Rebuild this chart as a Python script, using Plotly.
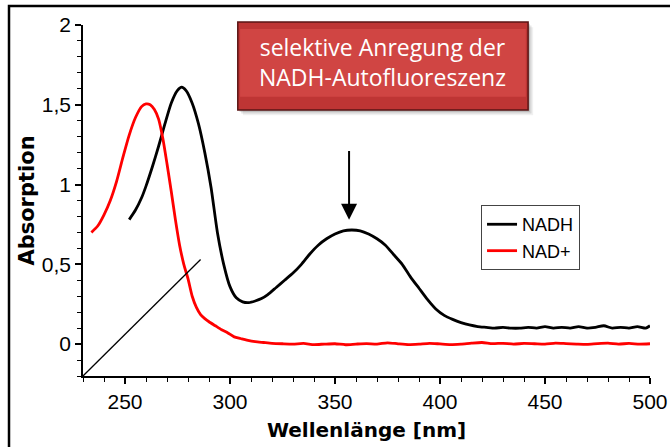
import plotly.graph_objects as go

# NADH absorption spectrum
nadh_wl = [252, 255, 258, 260, 263, 266, 269, 272, 275, 277, 279, 282, 285, 288, 291, 294,
           297, 300, 303, 306, 309, 312, 315, 318, 322, 326, 330, 334, 338, 342, 346, 350,
           354, 358, 362, 366, 370, 374, 378, 382, 386, 390, 394, 398, 402, 406, 410, 414,
           418, 422, 426, 430, 434, 438, 442, 446, 450, 454, 458, 462, 466, 470, 474, 478,
           482, 486, 490, 494, 498, 500]
nadh_abs = [0.78, 0.84, 0.92, 0.99, 1.11, 1.24, 1.38, 1.51, 1.59, 1.61, 1.59, 1.51, 1.38, 1.20,
            0.98, 0.70, 0.50, 0.36, 0.29, 0.265, 0.26, 0.27, 0.285, 0.31, 0.355, 0.40, 0.445,
            0.50, 0.565, 0.62, 0.66, 0.69, 0.71, 0.715, 0.71, 0.69, 0.66, 0.62, 0.56, 0.50,
            0.42, 0.35, 0.28, 0.22, 0.18, 0.155, 0.135, 0.12, 0.11, 0.105, 0.10, 0.105, 0.10,
            0.10, 0.105, 0.10, 0.11, 0.10, 0.105, 0.10, 0.11, 0.10, 0.105, 0.115, 0.10,
            0.105, 0.10, 0.11, 0.10, 0.115]

# NAD+ absorption spectrum
nad_wl = [234, 237, 240, 243, 246, 249, 252, 255, 258, 260, 262, 264, 266, 268, 270, 272,
          274, 276, 278, 280, 282, 284, 286, 288, 290, 293, 296, 299, 302, 305, 308, 312,
          316, 320, 325, 330, 335, 340, 345, 350, 355, 360, 365, 370, 375, 380, 385, 390,
          395, 400, 405, 410, 415, 420, 425, 430, 435, 440, 445, 450, 455, 460, 465, 470,
          475, 480, 485, 490, 495, 500]
nad_abs = [0.70, 0.74, 0.81, 0.90, 1.02, 1.17, 1.31, 1.42, 1.49, 1.505, 1.50, 1.47, 1.41,
           1.29, 1.13, 0.96, 0.78, 0.62, 0.50, 0.41, 0.30, 0.23, 0.185, 0.16, 0.14, 0.115,
           0.09, 0.07, 0.045, 0.035, 0.025, 0.015, 0.01, 0.005, 0.002, 0.0, 0.004, -0.003,
           0.0, 0.002, -0.004, 0.0, 0.003, 0.0, 0.008, 0.002, -0.003, 0.0, 0.005, 0.001,
           -0.003, 0.0, 0.006, 0.01, 0.003, 0.005, 0.0, 0.004, 0.002, 0.0, 0.006, 0.003,
           0.0, -0.002, 0.003, 0.006, 0.0, 0.004, 0.0, 0.002]

y_ticks = [0, 0.5, 1, 1.5, 2]
x_ticks = [250, 300, 350, 400, 450, 500]

fig = go.Figure()
fig.add_trace(go.Scatter(x=nadh_wl, y=nadh_abs, name="NADH", mode="lines",
                         line=dict(color="black", width=2.8, shape="spline", smoothing=0.6)))
fig.add_trace(go.Scatter(x=nad_wl, y=nad_abs, name="NAD+", mode="lines",
                         line=dict(color="#ff0000", width=2.8, shape="spline", smoothing=0.6)))

tick_font = "Liberation Sans, Arial, sans-serif"
title_font = "DejaVu Sans, Verdana, sans-serif"

fig.update_layout(
    width=670, height=447,
    margin=dict(l=83, r=20, t=25, b=71, autoexpand=False),
    plot_bgcolor="white", paper_bgcolor="white",
    separators=",.",
    font=dict(family=tick_font, color="black", size=18),
    showlegend=True,
    legend=dict(x=0.702, y=0.487, xanchor="left", yanchor="top",
                bordercolor="#444", borderwidth=1, bgcolor="white",
                font=dict(size=18, family=tick_font), itemwidth=30,
                tracegroupgap=0),
    xaxis=dict(range=[230, 500], tickvals=x_ticks, showline=True, linecolor="black",
               linewidth=1.5, ticks="outside", ticklen=6, tickwidth=1.5, tickcolor="black",
               showgrid=False, zeroline=False, tickfont=dict(size=21), automargin=False,
               minor=dict(dtick=10, ticks="outside", ticklen=4, tickwidth=1.2,
                          tickcolor="black", showgrid=False),
               title=dict(text="<b>Wellenlänge [nm]</b>",
                          font=dict(size=20, family=title_font), standoff=11)),
    yaxis=dict(range=[-0.2, 2], tickvals=y_ticks, showline=True, linecolor="black",
               linewidth=1.5, ticks="outside", ticklen=6, tickwidth=1.5, tickcolor="black",
               showgrid=False, zeroline=False, tickfont=dict(size=21), automargin=False,
               minor=dict(dtick=0.1, ticks="outside", ticklen=4, tickwidth=1.2,
                          tickcolor="black", showgrid=False),
               title=dict(text="<b>Absorption</b>",
                          font=dict(size=21, family=title_font), standoff=1)),
)

# outer frame
fig.add_shape(type="rect", xref="paper", yref="paper", x0=-0.1305, x1=1.1, y0=-0.4, y1=1.054,
              line=dict(color="black", width=2.5), fillcolor="rgba(0,0,0,0)", layer="below")

# thin diagonal line from the axis corner
fig.add_shape(type="line", xref="x", yref="y", x0=230, y0=-0.2, x1=286, y1=0.53,
              line=dict(color="black", width=1.3))

# arrow marking the NADH band near 360 nm
fig.add_annotation(x=356.7, y=0.78, ax=356.7, ay=1.22, xref="x", yref="y",
                   axref="x", ayref="y", text="", showarrow=True,
                   arrowhead=2, arrowsize=1.6, arrowwidth=2, arrowcolor="black")

# red label box with drop shadow
bx0, bx1, by0, by1 = 0.273, 0.785, 0.758, 1.0085
for i, a in enumerate([0.06, 0.10, 0.16]):
    off = (3 - i) * 0.005
    fig.add_shape(type="rect", xref="paper", yref="paper",
                  x0=bx0 + off * 0.6, x1=bx1 + off * 0.6, y0=by0 - off, y1=by1 - off,
                  line=dict(width=0), fillcolor=f"rgba(0,0,0,{a})")
fig.add_shape(type="rect", xref="paper", yref="paper", x0=bx0, x1=bx1, y0=by0, y1=by1,
              line=dict(color="#5a1414", width=1.5), fillcolor="#be3534")
fig.add_shape(type="rect", xref="paper", yref="paper", x0=bx0 + 0.004, x1=bx1 - 0.004,
              y0=by0 + 0.15 * (by1 - by0), y1=by1 - 0.02,
              line=dict(width=0), fillcolor="#d04543")
fig.add_annotation(xref="paper", yref="paper", x=(bx0 + bx1) / 2, y=(by0 + by1) / 2 + 0.01,
                   xanchor="center", yanchor="middle",
                   text="selektive Anregung der<br>NADH-Autofluoreszenz", showarrow=False,
                   font=dict(color="white", size=23, family="Open Sans, sans-serif"),
                   align="center")

fig.write_html("out.html")
